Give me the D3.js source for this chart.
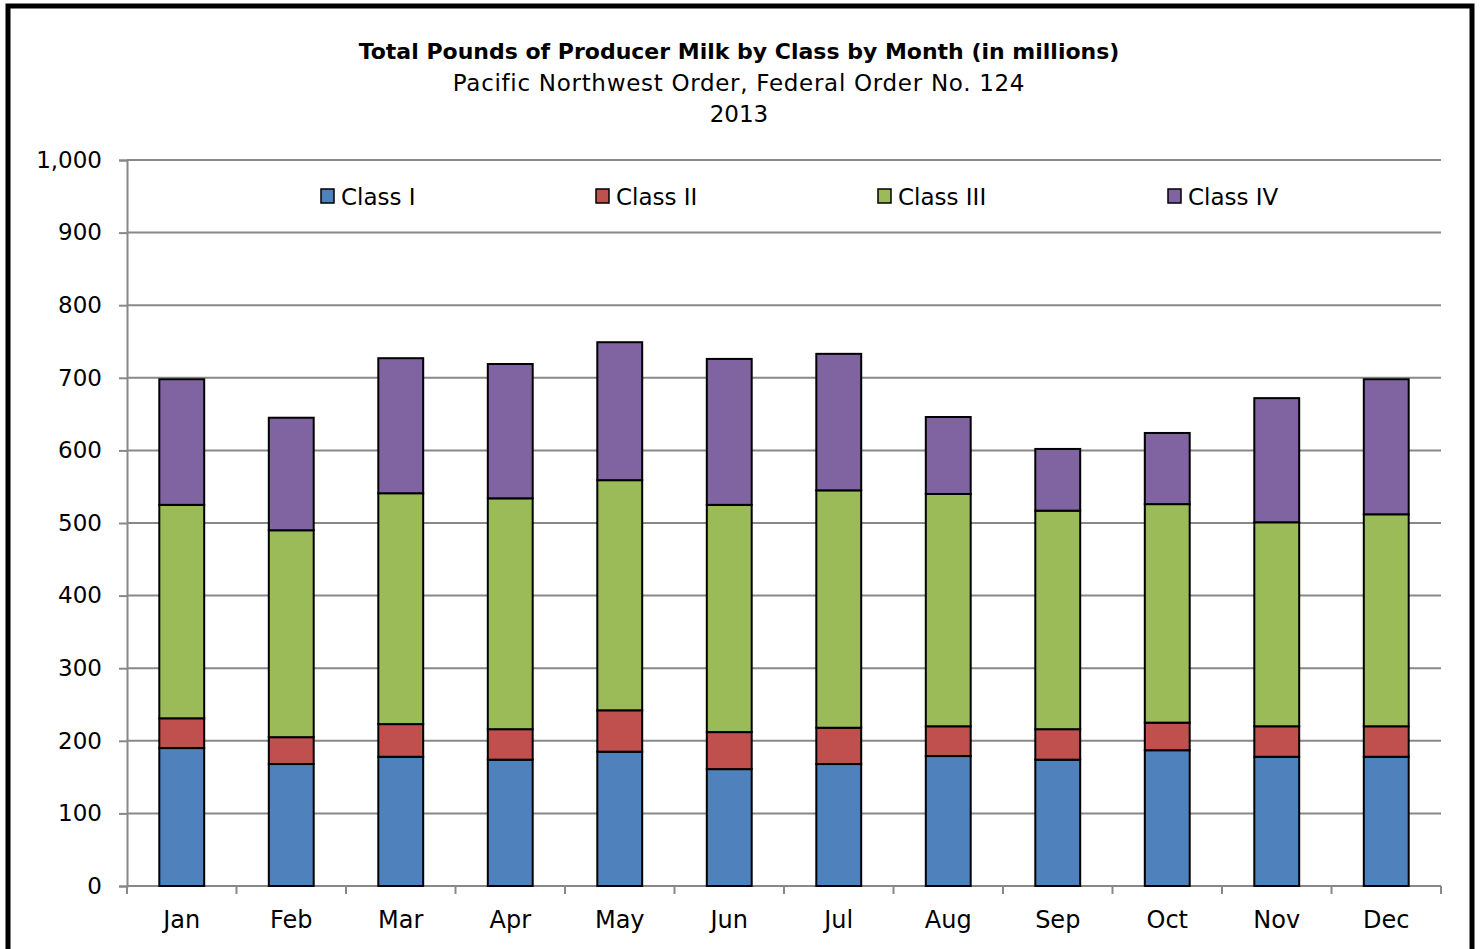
<!DOCTYPE html>
<html><head><meta charset="utf-8">
<script src="https://cdn.jsdelivr.net/npm/d3@7"></script>
<style>body{margin:0;background:#fff;} svg{display:block;}</style>
</head><body>
<script>
const months = ["Jan","Feb","Mar","Apr","May","Jun","Jul","Aug","Sep","Oct","Nov","Dec"];
const seriesNames = ["Class I","Class II","Class III","Class IV"];
const colors = ["#4f81bd","#c0504d","#9bbb59","#8064a2"];
const classI   = [190,168,178,174,185,161,168,179,174,187,178,178];
const classII  = [41,37,45,42,57,51,50,41,42,38,42,42];
const classIII = [294,285,318,318,317,313,327,320,301,301,281,292];
const classIV  = [173,155,186,185,190,201,188,106,85,98,171,186];
const yTicks = [0,100,200,300,400,500,600,700,800,900,1000];

(function(){
const W = 1481, H = 949;
const svg = d3.select("body").append("svg").attr("width", W).attr("height", H);
const font = "DejaVu Sans, Verdana, sans-serif";

svg.append("rect").attr("x",8).attr("y",6).attr("width",1464).attr("height",960)
  .attr("fill","#fff").attr("stroke","#000").attr("stroke-width",5);

const pL = 127, pR = 1441, pT = 160, pB = 886;
const x = d3.scaleBand().domain(months).range([pL, pR]).paddingInner(0.59).paddingOuter(0.295);
const y = d3.scaleLinear().domain([0,1000]).range([pB, pT]);

svg.append("g").selectAll("line").data(yTicks.filter(d=>d>0)).join("line")
  .attr("x1", pL).attr("x2", pR).attr("y1", d=>y(d)).attr("y2", d=>y(d))
  .attr("stroke","#888").attr("stroke-width",2);

const yAxis = svg.append("g").attr("transform",`translate(${pL},0)`)
  .call(d3.axisLeft(y).tickValues(yTicks).tickSize(8).tickPadding(17).tickFormat(d3.format(",")));
yAxis.select(".domain").attr("stroke","#888").attr("stroke-width",2);
yAxis.selectAll(".tick line").attr("stroke","#888").attr("stroke-width",2);
yAxis.selectAll("text").attr("font-family",font).attr("font-size",23).attr("fill","#000");

const xb = d3.scaleLinear().domain([0,12]).range([pL,pR]);
const xAxisG = svg.append("g").attr("transform",`translate(0,${pB})`);
xAxisG.append("line").attr("x1",pL).attr("x2",pR).attr("stroke","#888").attr("stroke-width",2);
xAxisG.selectAll(".bt").data(d3.range(13)).join("line").attr("class","bt")
  .attr("x1",d=>xb(d)).attr("x2",d=>xb(d)).attr("y1",0).attr("y2",8)
  .attr("stroke","#888").attr("stroke-width",2);
xAxisG.selectAll("text").data(months).join("text")
  .attr("x", d=>x(d)+x.bandwidth()/2).attr("y",42).attr("text-anchor","middle")
  .attr("font-family",font).attr("font-size",24).attr("fill","#000").text(d=>d);

const rows = months.map((m,i)=>({month:m, "Class I":classI[i], "Class II":classII[i], "Class III":classIII[i], "Class IV":classIV[i]}));
const stack = d3.stack().keys(seriesNames)(rows);
svg.append("g").selectAll("g").data(stack).join("g").attr("fill",(d,i)=>colors[i])
  .selectAll("rect").data(d=>d).join("rect")
  .attr("x", d=>x(d.data.month)).attr("width", x.bandwidth())
  .attr("y", d=>y(d[1])).attr("height", d=>y(d[0])-y(d[1]))
  .attr("stroke","#000").attr("stroke-width",2);

const legX = [321, 596, 878, 1168];
const leg = svg.append("g").selectAll("g").data(seriesNames).join("g")
  .attr("transform",(d,i)=>`translate(${legX[i]},196)`);
leg.append("rect").attr("x",0).attr("y",-7).attr("width",13).attr("height",14)
  .attr("fill",(d,i)=>colors[i]).attr("stroke","#000").attr("stroke-width",1.5);
leg.append("text").attr("x",20).attr("y",9).attr("font-family",font).attr("font-size",23)
  .attr("fill","#000").text(d=>d);

svg.append("text").attr("x",739).attr("y",59).attr("text-anchor","middle").attr("font-family",font)
  .attr("font-weight","bold").attr("font-size",22).text("Total Pounds of Producer Milk by Class by Month (in millions)");
svg.append("text").attr("x",739).attr("y",91).attr("text-anchor","middle").attr("font-family",font)
  .attr("font-size",23).attr("letter-spacing",0.7).text("Pacific Northwest Order, Federal Order No. 124");
svg.append("text").attr("x",739).attr("y",122).attr("text-anchor","middle").attr("font-family",font)
  .attr("font-size",23).text("2013");
})();
</script>
</body></html>
